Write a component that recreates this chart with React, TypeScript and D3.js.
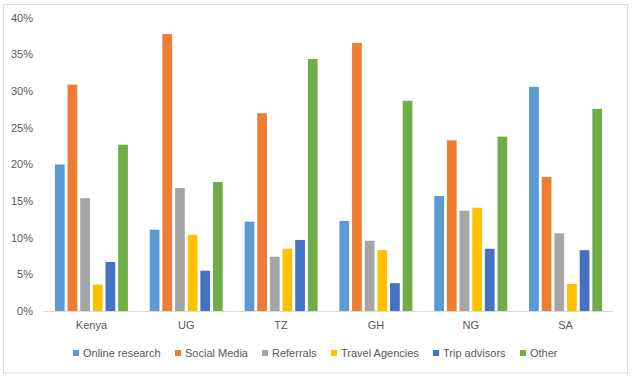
import React from "react";
import * as d3 from "d3";

const categories = ["Kenya", "UG", "TZ", "GH", "NG", "SA"];
const seriesNames = ["Online research", "Social Media", "Referrals", "Travel Agencies", "Trip advisors", "Other"];
const onlineResearch = [20.0, 11.1, 12.2, 12.3, 15.7, 30.6];
const socialMedia = [30.9, 37.8, 27.0, 36.6, 23.3, 18.3];
const referrals = [15.4, 16.8, 7.4, 9.6, 13.7, 10.6];
const travelAgencies = [3.6, 10.4, 8.5, 8.3, 14.1, 3.7];
const tripAdvisors = [6.7, 5.5, 9.7, 3.8, 8.5, 8.3];
const other = [22.7, 17.6, 34.4, 28.7, 23.8, 27.6];
const yTicks = [0, 5, 10, 15, 20, 25, 30, 35, 40];

const seriesValues = [onlineResearch, socialMedia, referrals, travelAgencies, tripAdvisors, other];
const colors = ["#5B9BD5", "#ED7D31", "#A5A5A5", "#FFC000", "#4472C4", "#70AD47"];

export default function App() {
  const W = 635, H = 378;
  const left = 44, right = 613, top = 18, bottom = 311;
  const x0 = d3.scaleBand().domain(categories).range([left, right]).paddingInner(0.23).paddingOuter(0.115);
  const x1 = d3.scaleBand().domain(seriesNames).range([0, x0.bandwidth()]).paddingInner(0.23);
  const y = d3.scaleLinear().domain([0, 40]).range([bottom, top]);
  const font = "'Liberation Sans', Arial, sans-serif";
  const legendX = [76, 178, 265, 334, 436, 523];

  return (
    <div style={{ position: "absolute", left: 0, top: 0 }}>
      <svg width={W} height={H} style={{ display: "block" }}>
        <rect x={0} y={0} width={W} height={H} fill="#fff" />
        <rect x={3.5} y={4.5} width={624} height={368.5} fill="#fff" stroke="#D9D9D9" strokeWidth={1} />
        {yTicks.map((t) => (
          <text key={t} x={33} y={y(t)} dy="0.35em" textAnchor="end" fontSize={11} fill="#595959" fontFamily={font}>
            {t}%
          </text>
        ))}
        {seriesNames.map((s, si) =>
          categories.map((c, ci) => {
            const v = seriesValues[si][ci];
            return (
              <rect
                key={s + c}
                x={(x0(c) ?? 0) + (x1(s) ?? 0)}
                y={y(v)}
                width={x1.bandwidth()}
                height={bottom - y(v)}
                fill={colors[si]}
              />
            );
          })
        )}
        <line x1={left} x2={right} y1={bottom + 0.5} y2={bottom + 0.5} stroke="#D9D9D9" strokeWidth={1} />
        {categories.map((c) => (
          <text key={c} x={(x0(c) ?? 0) + x0.bandwidth() / 2} y={329} textAnchor="middle" fontSize={11} fill="#595959" fontFamily={font}>
            {c}
          </text>
        ))}
        {seriesNames.map((s, si) => (
          <g key={s} transform={`translate(${legendX[si]},353)`}>
            <rect x={-3} y={-3} width={6} height={6} fill={colors[si]} />
            <text x={7} y={0} dy="0.35em" fontSize={11} fill="#595959" fontFamily={font}>
              {s}
            </text>
          </g>
        ))}
      </svg>
    </div>
  );
}
